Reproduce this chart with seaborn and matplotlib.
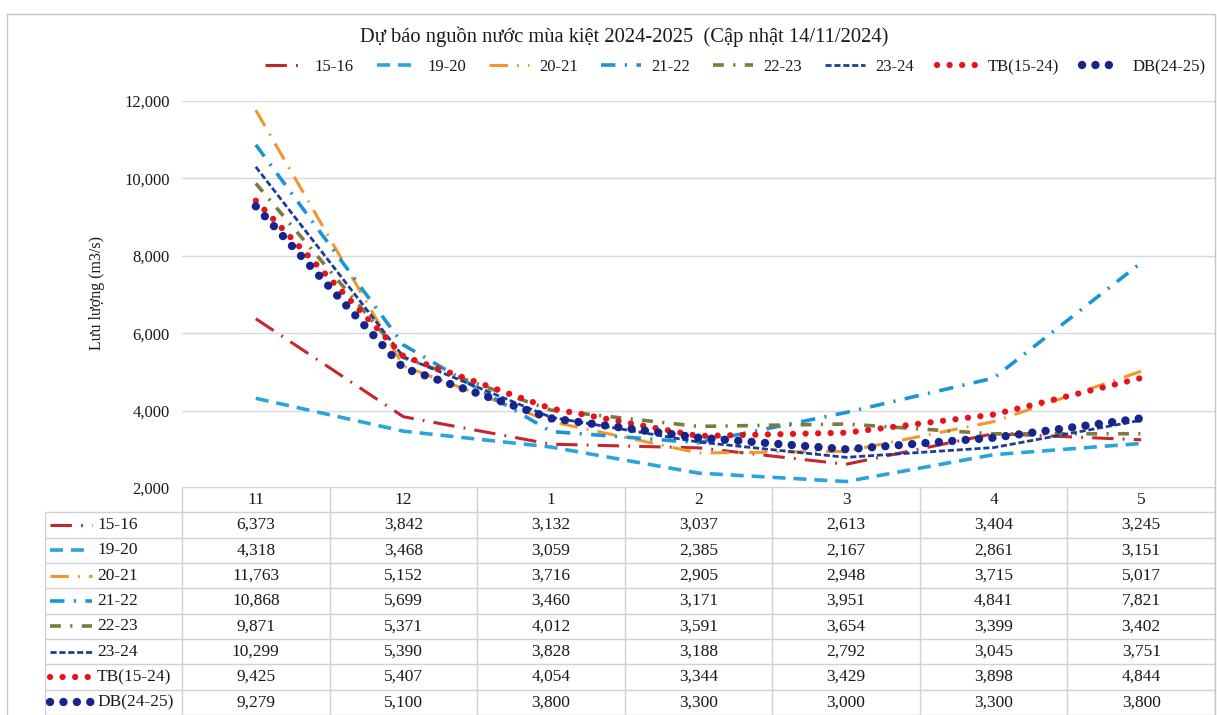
import matplotlib
matplotlib.use("Agg")
import matplotlib.pyplot as plt
import seaborn as sns
import numpy as np
from matplotlib.patches import Rectangle
from matplotlib.ticker import FuncFormatter

# data (m3/s)
months = ["11", "12", "1", "2", "3", "4", "5"]
seasons = ["15-16", "19-20", "20-21", "21-22", "22-23", "23-24", "TB(15-24)", "DB(24-25)"]
q_15_16 = [6373, 3842, 3132, 3037, 2613, 3404, 3245]
q_19_20 = [4318, 3468, 3059, 2385, 2167, 2861, 3151]
q_20_21 = [11763, 5152, 3716, 2905, 2948, 3715, 5017]
q_21_22 = [10868, 5699, 3460, 3171, 3951, 4841, 7821]
q_22_23 = [9871, 5371, 4012, 3591, 3654, 3399, 3402]
q_23_24 = [10299, 5390, 3828, 3188, 2792, 3045, 3751]
q_tb = [9425, 5407, 4054, 3344, 3429, 3898, 4844]
q_db = [9279, 5100, 3800, 3300, 3000, 3300, 3800]
series = [q_15_16, q_19_20, q_20_21, q_21_22, q_22_23, q_23_24, q_tb, q_db]

colors = ["#C3262C", "#2AA5DC", "#F2962A", "#1C95D6", "#7E7A3C", "#1D3C98", "#E5131B", "#15258C"]
widths = [2.2, 2.6, 2.2, 2.6, 2.6, 2.0, 4.5, 6.0]
dashes = [(7, 3, 0.6, 3), (3.6, 2.2), (6, 3, 0.6, 3), (4, 2.6, 0.6, 2.6),
          (3, 2.6, 0.6, 2.6), (2.2, 1.0), (0.01, 2.0), (0.01, 1.6)]
caps = ["butt"] * 6 + ["round", "round"]

title = "Dự báo nguồn nước mùa kiệt 2024-2025  (Cập nhật 14/11/2024)"
ylabel = "Lưu lượng (m3/s)"

sns.set_style("white")
plt.rcParams["font.family"] = ["Liberation Serif", "DejaVu Serif"]
plt.rcParams["text.color"] = "#1a1a1a"

W, H = 1217, 715
fig = plt.figure(figsize=(W / 100, H / 100), dpi=100)

# chart area frame
fig.patches.append(Rectangle((7 / W, -0.01), (1215 - 7) / W, (H - 14) / H + 0.01,
                             transform=fig.transFigure, fill=False, ec="#C4C4CC", lw=1))

ax = fig.add_axes([182 / W, (H - 488) / H, (1215 - 182) / W, (488 - 101) / H])
x = np.arange(len(months))
for name, vals, c, lw, d, cap in zip(seasons, series, colors, widths, dashes, caps):
    sns.lineplot(x=x, y=vals, ax=ax, color=c, linewidth=lw, linestyle=(0, d),
                 dash_capstyle=cap, label=name, legend=False)

ax.set_xlim(-0.5, len(months) - 0.5)
ax.set_ylim(2000, 12000)
ax.set_yticks(range(2000, 12001, 2000))
ax.yaxis.set_major_formatter(FuncFormatter(lambda v, p: f"{v:,.0f}"))
ax.set_xticks([])
ax.set_xlabel("")
ax.set_ylabel("")
ax.tick_params(axis="y", length=0, pad=9, labelsize=12, labelcolor="#1a1a1a")
ax.yaxis.grid(True, color="#D8D8E2", lw=1)
for s in ax.spines.values():
    s.set_visible(False)

handles = ax.get_lines()
fig.legend(handles, seasons, loc="center", bbox_to_anchor=(735 / W, 1 - 67 / H), ncol=8,
           frameon=False, fontsize=12, handlelength=2.4, handletextpad=0.6, columnspacing=1.4)

fig.text(624 / W, 1 - 37 / H, title, ha="center", va="center", fontsize=14.8)
fig.text(97 / W, 1 - 293 / H, ylabel, rotation=90, ha="center", va="center", fontsize=11.5)

# data table under the plot (pixel coordinates)
tax = fig.add_axes([45 / W, 0, (1215 - 45) / W, (H - 487) / H])
tax.set_xlim(45, 1215)
tax.set_ylim(H, 487)
tax.axis("off")
colw = (1215 - 182) / len(months)
rh = (H - 487) / (len(seasons) + 1)
grid_c = "#D0D0DA"
tax.hlines(487, 182, 1215, color=grid_c, lw=1)
for k in range(1, len(seasons) + 2):
    tax.hlines(487 + k * rh, 45, 1215, color=grid_c, lw=1)
tax.vlines(45, 487 + rh, H, color=grid_c, lw=1)
for i in range(len(months) + 1):
    tax.vlines(182 + i * colw, 487, H, color=grid_c, lw=1)
for i, m in enumerate(months):
    tax.text(182 + (i + 0.5) * colw, 487 + 0.5 * rh, m, ha="center", va="center", fontsize=12.5)
for r, (name, vals, c, lw, d, cap) in enumerate(zip(seasons, series, colors, widths, dashes, caps)):
    yc = 487 + (r + 1.5) * rh
    tax.plot([50, 92], [yc, yc], color=c, linewidth=lw, linestyle=(0, d), dash_capstyle=cap)
    tax.text(97, yc, name, ha="left", va="center", fontsize=12.5)
    for i, v in enumerate(vals):
        tax.text(182 + (i + 0.5) * colw, yc, f"{v:,}", ha="center", va="center", fontsize=12.5)

fig.savefig("out.png", dpi=100)
